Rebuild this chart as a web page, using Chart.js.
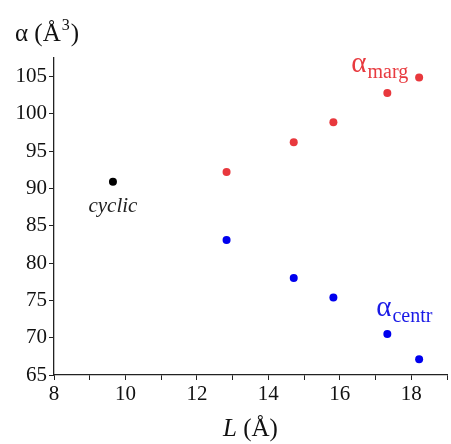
<!DOCTYPE html>
<html>
<head>
<meta charset="utf-8">
<script src="https://cdn.jsdelivr.net/npm/chart.js@4"></script>
<style>
  html, body { margin: 0; padding: 0; background: #fff; }
  #wrap { width: 451px; height: 444px; position: relative; }
</style>
</head>
<body>
<div id="wrap"><canvas id="app-chart"></canvas></div>
<script>
//======================================================================================================================
// Data
//======================================================================================================================

var margL = [12.83, 14.71, 15.82, 17.33, 18.22];
var margAlpha = [92.2, 96.2, 98.9, 102.8, 104.9];

var centrL = [12.83, 14.71, 15.82, 17.33, 18.22];
var centrAlpha = [83.1, 78.0, 75.4, 70.5, 67.1];

var cyclicL = [9.65];
var cyclicAlpha = [90.9];

var xTickLabels = [8, 10, 12, 14, 16, 18];
var yTickLabels = [65, 70, 75, 80, 85, 90, 95, 100, 105];

var serif = '"Liberation Serif", "DejaVu Serif", serif';

function toPoints(xs, ys) {
    return xs.map(function(x, i) { return { x: x, y: ys[i] }; });
}

//======================================================================================================================
// Annotations: axis titles and series labels
//======================================================================================================================

var labelsPlugin = {
    id: 'labels',
    afterDraw: function(chart) {
        var ctx = chart.ctx;
        var xs = chart.scales.x;
        var ys = chart.scales.y;
        ctx.save();
        ctx.textBaseline = 'alphabetic';
        ctx.textAlign = 'left';

        // y title: α (Å3)
        ctx.fillStyle = '#111';
        ctx.font = '25px ' + serif;
        var t = 'α (Å';
        ctx.fillText(t, 15, 41);
        var w = ctx.measureText(t).width;
        ctx.font = '16px ' + serif;
        ctx.fillText('3', 15 + w + 1, 30);
        var w3 = ctx.measureText('3').width;
        ctx.font = '25px ' + serif;
        ctx.fillText(')', 15 + w + w3 + 2, 41);

        // x title: L (Å)
        ctx.font = 'italic 25px ' + serif;
        var lw = ctx.measureText('L').width;
        ctx.font = '25px ' + serif;
        var rw = ctx.measureText(' (Å)').width;
        var cx = (chart.chartArea.left + chart.chartArea.right) / 2;
        var x0 = cx - (lw + rw) / 2;
        ctx.font = 'italic 25px ' + serif;
        ctx.fillText('L', x0, 436);
        ctx.font = '25px ' + serif;
        ctx.fillText(' (Å)', x0 + lw, 436);

        // series labels
        function sub(main, subscript, color, lx, ly) {
            var px = xs.getPixelForValue(lx);
            var py = ys.getPixelForValue(ly);
            ctx.fillStyle = color;
            ctx.font = '29px ' + serif;
            ctx.fillText(main, px, py);
            var mw = ctx.measureText(main).width;
            ctx.font = '20px ' + serif;
            ctx.fillText(subscript, px + mw + 1, py + 6);
        }
        sub('α', 'marg', '#e83a3f', 16.32, 105.6);
        sub('α', 'centr', '#1a1ae6', 17.02, 72.9);

        ctx.fillStyle = '#222';
        ctx.font = 'italic 21px ' + serif;
        ctx.textAlign = 'center';
        ctx.fillText('cyclic', xs.getPixelForValue(9.65), ys.getPixelForValue(86.9));
        ctx.restore();
    }
};

//======================================================================================================================
// Chart
//======================================================================================================================

new Chart(document.getElementById('app-chart'), {
    type: 'scatter',
    data: {
        datasets: [{
            label: 'marg',
            data: toPoints(margL, margAlpha),
            backgroundColor: '#e8383d',
            borderWidth: 0,
            pointRadius: 4
        }, {
            label: 'centr',
            data: toPoints(centrL, centrAlpha),
            backgroundColor: '#0000ee',
            borderWidth: 0,
            pointRadius: 4
        }, {
            label: 'cyclic',
            data: toPoints(cyclicL, cyclicAlpha),
            backgroundColor: '#000',
            borderWidth: 0,
            pointRadius: 4
        }]
    },
    options: {
        responsive: true,
        maintainAspectRatio: false,
        animation: false,
        layout: { padding: { top: 58, right: 2, left: 0, bottom: 0 } },
        plugins: {
            legend: { display: false },
            tooltip: { enabled: false }
        },
        scales: {
            x: {
                type: 'linear',
                min: 8,
                max: 19,
                afterFit: function(scale) { scale.height = 69; },
                border: { color: '#222', width: 1.3 },
                grid: { drawOnChartArea: false, tickLength: 5, color: '#222', tickWidth: 1 },
                ticks: {
                    stepSize: 1,
                    padding: 2,
                    color: '#111',
                    font: { family: serif, size: 21 },
                    callback: function(v) { return xTickLabels.indexOf(v) >= 0 ? String(v) : ''; }
                }
            },
            y: {
                type: 'linear',
                min: 65,
                max: 107.5,
                afterFit: function(scale) { scale.width = 54; },
                border: { color: '#222', width: 1.3 },
                grid: { drawOnChartArea: false, tickLength: 5, color: '#222', tickWidth: 1 },
                ticks: {
                    stepSize: 2.5,
                    padding: 2,
                    color: '#111',
                    font: { family: serif, size: 21 },
                    callback: function(v) { return yTickLabels.indexOf(v) >= 0 ? String(v) : ''; }
                }
            }
        }
    },
    plugins: [labelsPlugin]
});
</script>
</body>
</html>
